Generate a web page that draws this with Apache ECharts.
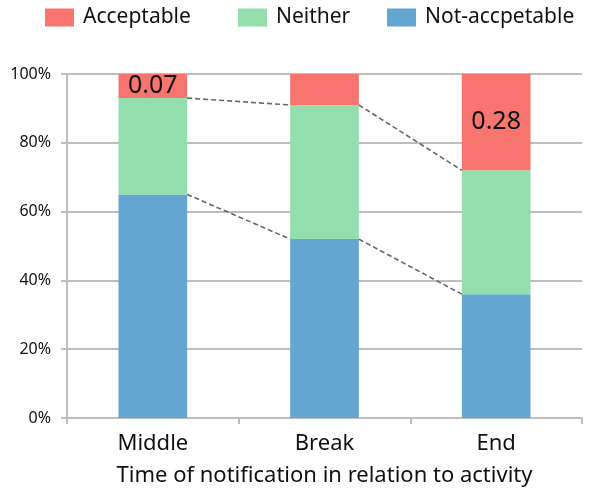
<!DOCTYPE html>
<html>
<head>
<meta charset="utf-8">
<script src="https://cdn.jsdelivr.net/npm/echarts@6/dist/echarts.min.js"></script>
<style>
  html, body { margin: 0; padding: 0; background: #fff; }
  #chart { width: 591px; height: 495px; }
</style>
</head>
<body>
<div id="chart"></div>
<script>
// Share of responses per notification timing
const categories = ['Middle', 'Break', 'End'];
const notAcceptable = [0.65, 0.52, 0.36];
const neither = [0.28, 0.39, 0.36];
const acceptable = [0.07, 0.09, 0.28];
// which "Acceptable" segments carry a value label
const showAcceptableLabel = [true, false, true];
const yTicks = [0, 0.2, 0.4, 0.6, 0.8, 1.0];

const FONT = 'Noto Sans';
const RED = '#F7746F';
const GREEN = '#92DFAD';
const BLUE = '#65A5D2';

// cumulative stack tops, used for the connector lines between bars
const lowerTops = notAcceptable.map(v => v);
const upperTops = notAcceptable.map((v, i) => v + neither[i]);
const connectorData = [];
for (let i = 0; i < categories.length - 1; i++) {
  connectorData.push([i, lowerTops[i], lowerTops[i + 1], upperTops[i], upperTops[i + 1]]);
}

function legendAt(name, left) {
  return {
    data: [name],
    left: left,
    top: 7,
    padding: 0,
    itemWidth: 29,
    itemHeight: 18,
    icon: 'rect',
    textStyle: { fontFamily: FONT, fontSize: 21, color: '#111', padding: [0, 0, 0, 4] }
  };
}

const chart = echarts.init(document.getElementById('chart'));
chart.setOption({
  animation: false,
  legend: [
    legendAt('Acceptable', 45),
    legendAt('Neither', 238),
    legendAt('Not-accpetable', 387)
  ],
  grid: { left: 67, right: 9, top: 74, bottom: 77, outerBoundsMode: 'none', containLabel: false },
  xAxis: {
    type: 'category',
    data: categories,
    name: 'Time of notification in relation to activity',
    nameLocation: 'middle',
    nameGap: 47,
    nameTextStyle: { fontFamily: FONT, fontSize: 22, color: '#111' },
    axisLine: { lineStyle: { color: '#BDBDBD', width: 2 } },
    axisTick: { show: true, length: 6, lineStyle: { color: '#BDBDBD', width: 2 } },
    axisLabel: { fontFamily: FONT, fontSize: 22, color: '#111', margin: 15 }
  },
  yAxis: {
    type: 'value',
    min: 0,
    max: 1,
    interval: 0.2,
    axisLine: { show: true, lineStyle: { color: '#BDBDBD', width: 2 } },
    axisTick: { show: true, length: 6, lineStyle: { color: '#BDBDBD', width: 2 } },
    splitLine: { lineStyle: { color: '#BDBDBD', width: 2 } },
    axisLabel: {
      fontFamily: FONT, fontSize: 16, color: '#111', margin: 16,
      customValues: yTicks,
      formatter: v => Math.round(v * 100) + '%'
    }
  },
  series: [
    {
      name: 'Not-accpetable', type: 'bar', stack: 'total', barWidth: '40%',
      itemStyle: { color: BLUE },
      data: notAcceptable
    },
    {
      name: 'Neither', type: 'bar', stack: 'total', barWidth: '40%',
      itemStyle: { color: GREEN },
      data: neither
    },
    {
      name: 'Acceptable', type: 'bar', stack: 'total', barWidth: '40%',
      itemStyle: { color: RED },
      data: acceptable.map((v, i) => ({
        value: v,
        label: {
          show: showAcceptableLabel[i],
          position: 'inside',
          fontFamily: FONT,
          fontSize: 25,
          color: '#111',
          formatter: p => p.value.toFixed(2)
        }
      }))
    },
    {
      // dashed series lines joining stack boundaries of neighbouring bars
      type: 'custom',
      silent: true,
      z: 5,
      data: connectorData,
      renderItem: function (params, api) {
        const i = api.value(0);
        const half = api.size([1, 0])[0] * 0.2;
        const children = [];
        [[1, 2], [3, 4]].forEach(function (pair) {
          const a = api.coord([i, api.value(pair[0])]);
          const b = api.coord([i + 1, api.value(pair[1])]);
          children.push({
            type: 'line',
            shape: { x1: a[0] + half, y1: a[1], x2: b[0] - half, y2: b[1] },
            style: { stroke: '#666', lineWidth: 1.6, lineDash: [5, 3] }
          });
        });
        return { type: 'group', children: children };
      }
    }
  ]
});
</script>
</body>
</html>
